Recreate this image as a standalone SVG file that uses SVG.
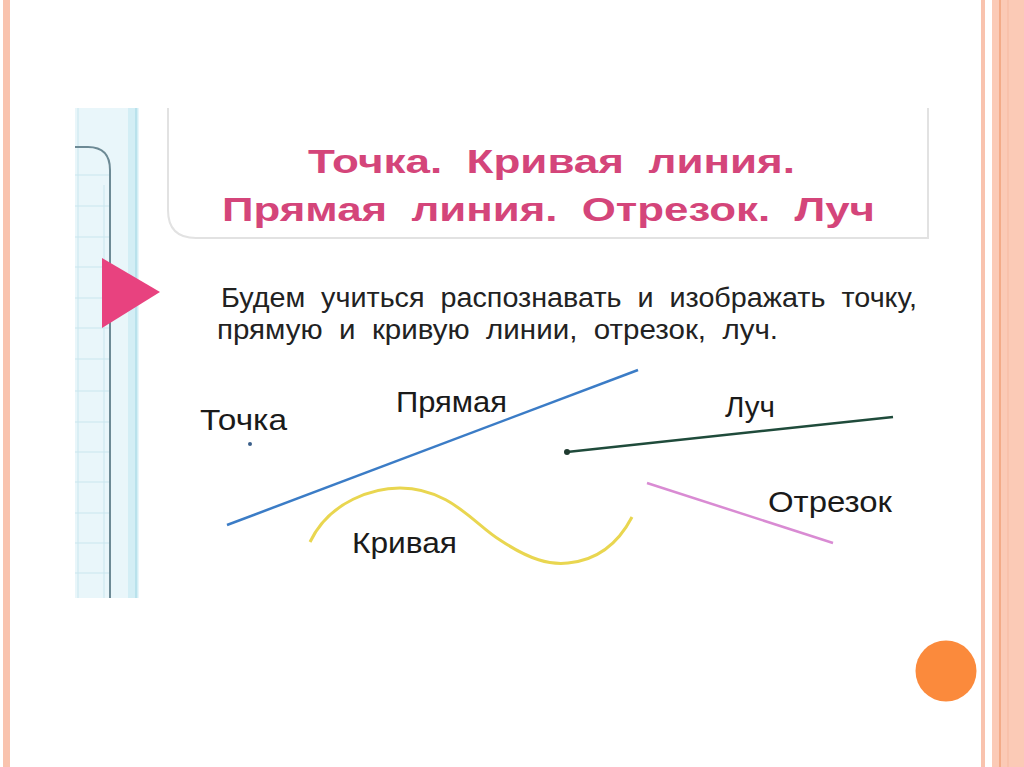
<svg xmlns="http://www.w3.org/2000/svg" width="1024" height="767" viewBox="0 0 1024 767">
<style>
text{white-space:pre}
.title{font-family:"Liberation Sans","Noto Sans",sans-serif;font-weight:bold;font-size:34px;fill:#d4457a}
.body{font-family:"Liberation Sans","Noto Sans",sans-serif;font-size:27px;fill:#222}
.lbl{font-family:"Liberation Sans","Noto Sans",sans-serif;font-size:29px;fill:#1a1a1a}
.grid{stroke:#c9e6ee;stroke-width:1}
</style>
<rect width="1024" height="767" fill="#fff"/>
<g id="frame">
<rect x="3" y="0" width="7" height="767" fill="#f9c3ae"/>
<rect x="981" y="0" width="4" height="767" fill="#f9c3ae"/>
<rect x="992" y="0" width="32" height="767" fill="#fbcab6"/>
<line x1="1000" y1="0" x2="1000" y2="767" stroke="#f0a078" stroke-width="1.5"/>
<line x1="1008" y1="0" x2="1008" y2="767" stroke="#f6b9a0" stroke-width="1"/>
<circle cx="946" cy="671" r="30.5" fill="#fb8a3c"/>
</g>
<g id="notebook">
<rect x="75" y="108" width="64" height="490" fill="#e9f6fa"/>
<rect x="128" y="108" width="10" height="490" fill="#d3eef5"/>
<g class="grid">
<line x1="75" y1="175" x2="110" y2="175"/><line x1="75" y1="206" x2="110" y2="206"/>
<line x1="75" y1="237" x2="110" y2="237"/><line x1="75" y1="267" x2="110" y2="267"/>
<line x1="75" y1="298" x2="110" y2="298"/><line x1="75" y1="328" x2="110" y2="328"/>
<line x1="75" y1="359" x2="110" y2="359"/><line x1="75" y1="391" x2="110" y2="391"/>
<line x1="75" y1="422" x2="110" y2="422"/><line x1="75" y1="452" x2="110" y2="452"/>
<line x1="75" y1="482" x2="110" y2="482"/><line x1="75" y1="513" x2="110" y2="513"/>
<line x1="75" y1="543" x2="110" y2="543"/><line x1="75" y1="573" x2="110" y2="573"/>
<line x1="78" y1="108" x2="78" y2="598"/><line x1="104" y1="185" x2="104" y2="598"/>
</g>
<path d="M75,147 H88 Q110,147 110,170 V598" fill="none" stroke="#6d8a95" stroke-width="2"/>
<line x1="136" y1="108" x2="136" y2="598" stroke="#b9e2ec" stroke-width="2"/>
</g>
<g id="title-box">
<path d="M168,108 V210 Q168,238 196,238 H928 V108" fill="#fff" stroke="#e2e2e2" stroke-width="2"/>
<text class="title" x="308" y="173" textLength="487" lengthAdjust="spacingAndGlyphs">Точка.  Кривая  линия.</text>
<text class="title" x="222" y="221" textLength="653" lengthAdjust="spacingAndGlyphs">Прямая  линия.  Отрезок.  Луч</text>
</g>
<g id="marker">
<polygon points="102,258 102,328 160,292" fill="#e8427f"/>
</g>
<g id="intro">
<text class="body" x="221" y="307" textLength="696" lengthAdjust="spacingAndGlyphs">Будем  учиться  распознавать  и  изображать  точку,</text>
<text class="body" x="217" y="339" textLength="561" lengthAdjust="spacingAndGlyphs">прямую  и  кривую  линии,  отрезок,  луч.</text>
</g>
<g id="point">
<text class="lbl" x="200" y="430" textLength="87" lengthAdjust="spacingAndGlyphs">Точка</text>
<circle cx="250" cy="444" r="2" fill="#3a5f8a"/>
</g>
<g id="line">
<line x1="227" y1="525" x2="638" y2="370" stroke="#3b7cc6" stroke-width="2.5"/>
<text class="lbl" x="396" y="412" textLength="111" lengthAdjust="spacingAndGlyphs">Прямая</text>
</g>
<g id="curve">
<path d="M310,542 C330,500 375,488 400,488 C450,488 475,525 500,540 C530,560 550,565 568,563 C600,560 620,540 632,517" fill="none" stroke="#e9d650" stroke-width="3"/>
<text class="lbl" x="352" y="553" textLength="105" lengthAdjust="spacingAndGlyphs">Кривая</text>
</g>
<g id="ray">
<line x1="567" y1="452" x2="893" y2="417" stroke="#1f4b3b" stroke-width="2.5"/>
<circle cx="567" cy="452" r="3" fill="#1f3b30"/>
<text class="lbl" x="725" y="417" textLength="50" lengthAdjust="spacingAndGlyphs">Луч</text>
</g>
<g id="segment">
<line x1="647" y1="483" x2="833" y2="543" stroke="#d98bd3" stroke-width="2.5"/>
<text class="lbl" x="768" y="512" textLength="124" lengthAdjust="spacingAndGlyphs">Отрезок</text>
</g>
</svg>
